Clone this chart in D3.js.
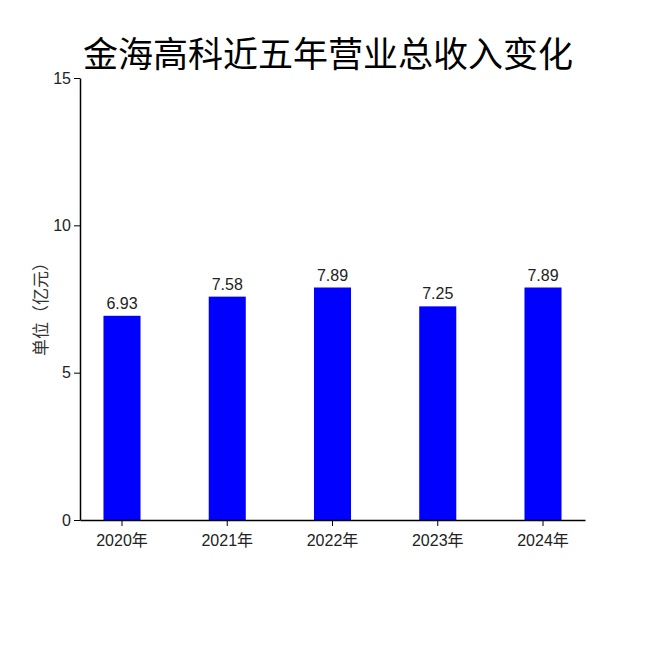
<!DOCTYPE html>
<html lang="zh">
<head>
<meta charset="utf-8">
<title>金海高科近五年营业总收入变化</title>
<style>
  body { margin: 0; padding: 0; background: #fff; }
  svg { display: block; }
  .num { font-family: "Liberation Sans Narrow", "Liberation Sans", "Noto Sans CJK SC", sans-serif; }
</style>
<script src="https://cdn.jsdelivr.net/npm/d3@7"></script>
</head>
<body>
<div id="root"></div>
<script>
  var years = ["2020年", "2021年", "2022年", "2023年", "2024年"];
  var revenue = [6.93, 7.58, 7.89, 7.25, 7.89];
  var yTicks = [0, 5, 10, 15];

  var width = 650, height = 650;
  var margin = { left: 80, right: 585, top: 78, bottom: 520 };

  var svg = d3.select("#root").append("svg")
      .attr("width", width)
      .attr("height", height);

  var x = d3.scaleBand()
      .domain(years)
      .range([margin.left, margin.right])
      .paddingInner(0.648)
      .paddingOuter(0.223);

  var y = d3.scaleLinear()
      .domain([0, 15])
      .range([margin.bottom, margin.top]);

  // title
  svg.append("text")
      .attr("x", 328)
      .attr("y", 67)
      .attr("text-anchor", "middle")
      .style("font-family", "'Noto Sans CJK SC', sans-serif")
      .style("font-size", "35px")
      .style("fill", "#000")
      .text("金海高科近五年营业总收入变化");

  // bars
  svg.append("g").selectAll("rect")
    .data(revenue)
    .enter().append("rect")
      .attr("x", function(d, i) { return x(years[i]); })
      .attr("y", function(d) { return y(d); })
      .attr("width", x.bandwidth())
      .attr("height", function(d) { return y(0) - y(d); })
      .attr("fill", "#0000ff");

  // value labels
  svg.append("g").selectAll("text")
    .data(revenue)
    .enter().append("text")
      .attr("class", "num")
      .attr("x", function(d, i) { return x(years[i]) + x.bandwidth() / 2; })
      .attr("y", function(d) { return y(d) - 7; })
      .attr("text-anchor", "middle")
      .style("font-size", "16px")
      .style("fill", "#222")
      .text(function(d) { return d.toFixed(2); });

  // axes
  var xAxis = svg.append("g")
      .attr("transform", "translate(0," + margin.bottom + ")")
      .call(d3.axisBottom(x).tickSize(6).tickSizeOuter(0));
  xAxis.select(".domain").attr("stroke", "#000").attr("stroke-width", 1.5);
  xAxis.selectAll("text")
      .attr("class", "num")
      .attr("dy", "1.05em")
      .style("font-size", "16px")
      .style("fill", "#222");

  var yAxis = svg.append("g")
      .attr("transform", "translate(" + margin.left + ",0)")
      .call(d3.axisLeft(y).tickValues(yTicks).tickSize(6).tickSizeOuter(0));
  yAxis.select(".domain").attr("stroke", "#000").attr("stroke-width", 1.5);
  yAxis.selectAll("text")
      .attr("class", "num")
      .style("font-size", "16px")
      .style("fill", "#222");

  // y label
  svg.append("text")
      .attr("transform", "translate(47,305) rotate(-90)")
      .attr("text-anchor", "middle")
      .style("font-family", "'Noto Sans CJK SC', sans-serif")
      .style("font-size", "17px")
      .style("fill", "#333")
      .text("单位（亿元）");
</script>
</body>
</html>
